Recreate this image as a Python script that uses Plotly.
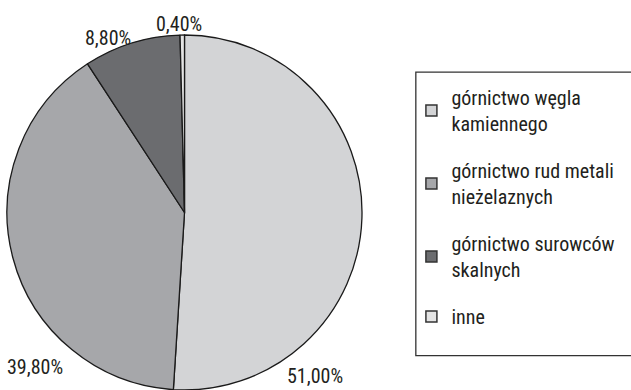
import plotly.graph_objects as go

categories = ["górnictwo węgla<br>kamiennego", "górnictwo rud metali<br>nieżelaznych",
              "górnictwo surowców<br>skalnych", "inne"]
values = [51.0, 39.8, 8.8, 0.4]
colors = ["#d3d4d6", "#a6a7aa", "#6b6c6f", "#e4e4e4"]
# label anchor positions (paper coords), one per slice
label_pos = [(0.499, 0.036), (0.056, 0.058), (0.171, 0.902), (0.284, 0.938)]

FONT = "Roboto Condensed, sans-serif"
TXT = "#231f20"

fig = go.Figure()
fig.add_trace(go.Pie(
    labels=categories, values=values, sort=False, direction="clockwise", rotation=0,
    marker=dict(colors=colors, line=dict(color="#1a1a1a", width=1.3)),
    textinfo="none", hoverinfo="label+percent", showlegend=False,
    domain=dict(x=[0.0095, 0.5753], y=[0.0, 0.9103]),
))

for i, (cat, col) in enumerate(zip(categories, colors)):
    fig.add_trace(go.Scatter(
        x=[None], y=[None], mode="markers", name=cat, legendgroup=f"g{i}",
        marker=dict(symbol="square", size=11, color=col, line=dict(color="#333333", width=1.5)),
    ))

for (x, y), v in zip(label_pos, values):
    fig.add_annotation(x=x, y=y, xref="paper", yref="paper", showarrow=False,
                       xanchor="center", yanchor="middle",
                       text=f"{v:.2f}%".replace(".", ","),
                       font=dict(family=FONT, size=20, color=TXT))

fig.add_shape(type="rect", xref="paper", yref="paper", x0=0.659, x1=1.05, y0=0.088, y1=0.815,
              line=dict(color="#333333", width=1.3), fillcolor="rgba(0,0,0,0)", layer="below")

fig.update_layout(
    width=631, height=390, margin=dict(l=0, r=0, t=0, b=0),
    paper_bgcolor="white", plot_bgcolor="white",
    xaxis=dict(visible=False), yaxis=dict(visible=False),
    showlegend=True,
    legend=dict(x=0.652, y=0.800, xanchor="left", yanchor="top", traceorder="grouped",
                tracegroupgap=18, bgcolor="rgba(0,0,0,0)", borderwidth=0,
                font=dict(family=FONT, size=20, color=TXT), valign="middle"),
)

fig.write_html("out.html")
